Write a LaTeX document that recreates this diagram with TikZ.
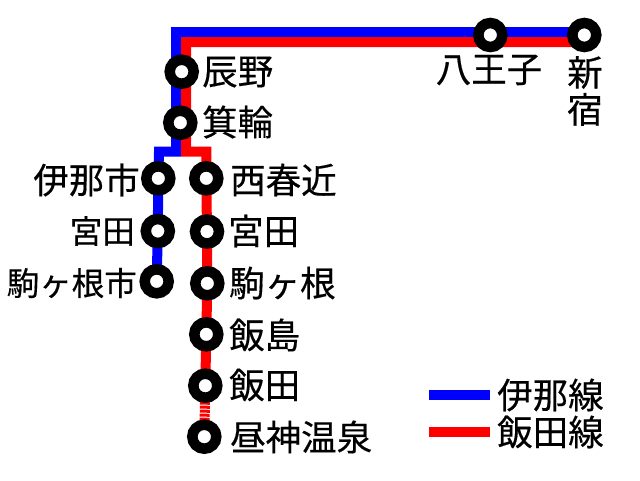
\documentclass[tikz,border=0pt]{standalone}
\usepackage{fontspec}
\setmainfont[FakeBold=0.4]{Noto Sans CJK JP}
\usepackage{xcolor}
\usetikzlibrary{backgrounds}
\tikzset{
    station/.style={circle, draw=black, fill=white, line width=10.5pt, minimum size=24pt, inner sep=0pt, outer sep=0pt},
    stationname/.style={inner sep=0pt, font=\fontsize{35.5}{37}\selectfont},
    tightname/.style={stationname, font=\fontsize{32.5}{37}\selectfont},
    inaline/.style={draw=blue, line width=10pt},
    iidaline/.style={draw=red, line width=10pt},
    privateline/.style={draw=red, line width=10pt, dash pattern=on 3pt off 1pt},
}

\begin{document}
\begin{tikzpicture}[x=1pt, y=-1pt]
    \useasboundingbox (0,0) rectangle (640,480);

    % Stations on the shared section
    \node[station] (shinjuku) at (584.3,35) {};
    \node[station] (hachioji) at (490.3,35) {};
    \node[station] (tatsuno) at (181.7,71.7) {};
    \node[station] (minowa) at (180.3,122.7) {};

    % Ina branch
    \node[station] (inashi) at (158.3,178.3) {};
    \node[station] (miyataA) at (157.8,231) {};
    \node[station] (komaganeshi) at (156.7,281.3) {};

    % Iida branch
    \node[station] (nishiharuchika) at (206.3,178.3) {};
    \node[station] (miyataB) at (207,231.5) {};
    \node[station] (komagane) at (207.3,283.3) {};
    \node[station] (iijima) at (206.3,334.3) {};
    \node[station] (iida) at (205.3,385.7) {};
    \node[station] (hirugami) at (204.3,436.7) {};

    % Bends of the two lines
    \coordinate (blueEast) at (584.3,32);
    \coordinate (blueCorner) at (176,32);
    \coordinate (blueFork) at (176,151.7);
    \coordinate (blueBranch) at (159,151.7);
    \coordinate (redEast) at (584.3,42);
    \coordinate (redCorner) at (186,42);
    \coordinate (redFork) at (186,151.7);
    \coordinate (redBranch) at (206.3,151.7);

    % Lines go under the stations
    \begin{scope}[on background layer]
        \fill[white] (0,0) rectangle (640,480);
        \draw[inaline] (blueEast) -- (blueCorner) -- (blueFork) -- (blueBranch) -- (inashi.center) -- (miyataA.center) -- (komaganeshi.center);
        \draw[iidaline] (redEast) -- (redCorner) -- (redFork) -- (redBranch) -- (nishiharuchika.center) -- (miyataB.center) -- (komagane.center) -- (iijima.center) -- (iida.center);
        \draw[privateline] (iida.center) -- (hirugami.center);
    \end{scope}

    % Station names
    \node[stationname, anchor=west] (tatsunoName) at (202,72) {辰野};
    \node[stationname, anchor=west] (minowaName) at (202,122) {箕輪};
    \node[stationname, anchor=center] (hachiojiName) at (489,70) {八王子};
    \node[stationname, anchor=north, align=center] (shinjukuName) at (585,56) {新\\宿};
    \node[stationname, anchor=east] (inashiName) at (140,180) {伊那市};
    \node[tightname, anchor=east] (miyataAName) at (135,231) {宮田};
    \node[tightname, anchor=east] (komaganeshiName) at (137,283) {駒ヶ根市};
    \node[stationname, anchor=west] (nishiharuchikaName) at (230,180) {西春近};
    \node[stationname, anchor=west] (miyataBName) at (228,231) {宮田};
    \node[stationname, anchor=west] (komaganeName) at (229,283) {駒ヶ根};
    \node[stationname, anchor=west] (iijimaName) at (229,335) {飯島};
    \node[stationname, anchor=west] (iidaName) at (229,385) {飯田};
    \node[stationname, anchor=west] (hirugamiName) at (230,437) {昼神温泉};

    % Legend
    \coordinate (inaKeyA) at (429,395);
    \coordinate (inaKeyB) at (490,395);
    \coordinate (iidaKeyA) at (429,432);
    \coordinate (iidaKeyB) at (490,432);
    \draw[inaline] (inaKeyA) -- (inaKeyB);
    \draw[iidaline] (iidaKeyA) -- (iidaKeyB);
    \node[stationname, anchor=west] (inaKey) at (497,395) {伊那線};
    \node[stationname, anchor=west] (iidaKey) at (497,432) {飯田線};
\end{tikzpicture}
\end{document}
